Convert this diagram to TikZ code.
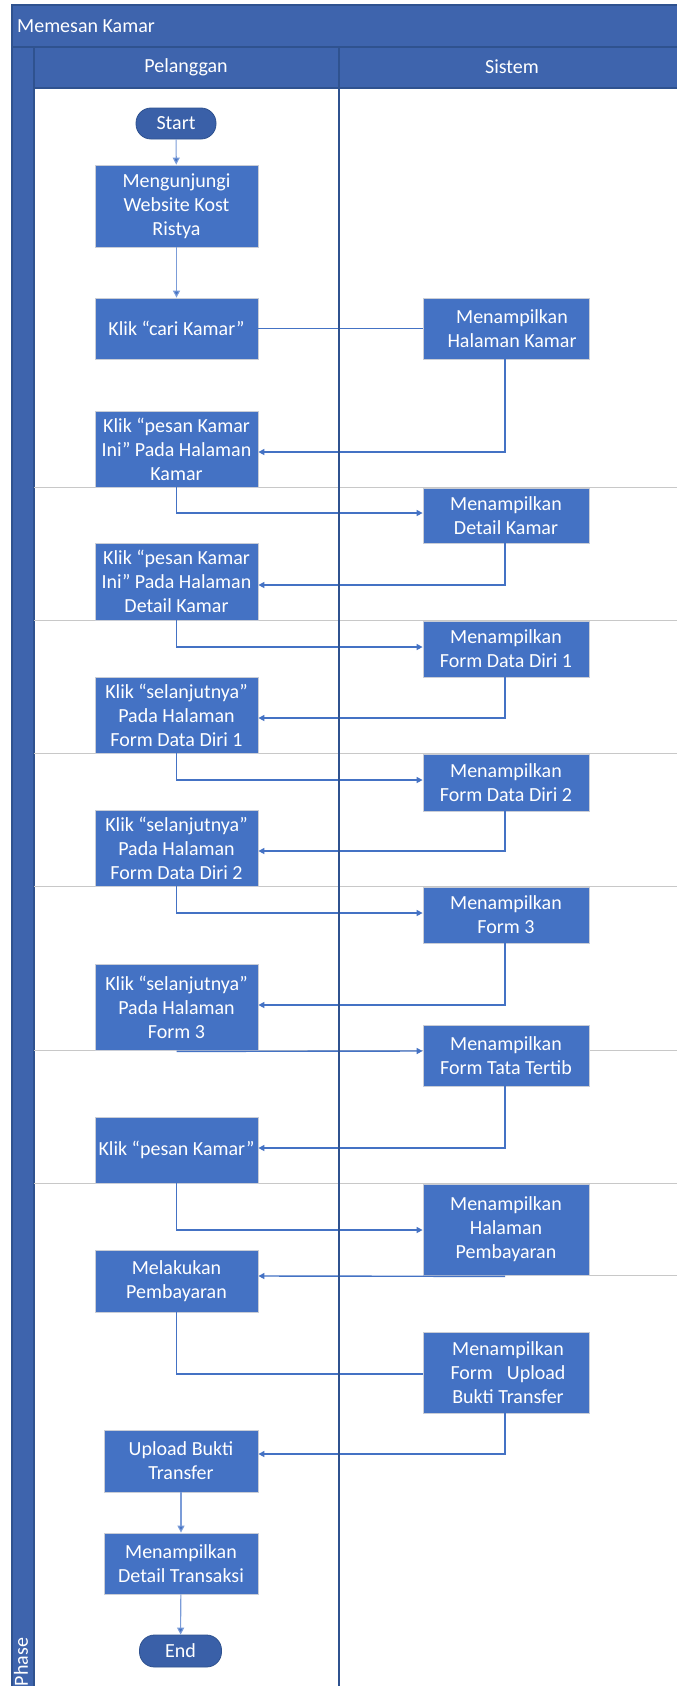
\documentclass[tikz,border=0pt]{standalone}
\usepackage{fontspec}
\setmainfont{Carlito}
\usetikzlibrary{arrows.meta,calc}
\definecolor{bandblue}{HTML}{3E64AD}
\definecolor{bandedge}{HTML}{2F528F}
\definecolor{boxblue}{HTML}{4472C4}
\definecolor{boxedge}{HTML}{C9CDD6}
\definecolor{termblue}{HTML}{3A60A8}
\definecolor{connblue}{HTML}{4472C4}
\definecolor{lightconn}{HTML}{7B9CD8}
\definecolor{sepgray}{HTML}{C8C8C8}
\begin{document}
\begin{tikzpicture}[x=1pt,y=-1pt,
  every node/.style={font=\fontsize{20}{24}\selectfont, text=white, inner sep=0pt},
  procbox/.style={rectangle, fill=boxblue, draw=boxedge, line width=0.8pt, align=center},
  lbox/.style={procbox, minimum width=163pt},
  rbox/.style={procbox, minimum width=166pt},
  termnode/.style={rectangle, rounded corners=15pt, fill=termblue, draw=bandedge, line width=0.8pt, align=center},
  conn/.style={draw=connblue, line width=1.4pt},
  connarrow/.style={conn, -{Triangle[length=6pt,width=6pt]}},
  flowarrow/.style={draw=lightconn, line width=1.1pt, -{Triangle[length=7pt,width=7pt,fill=connblue]}},
  sepline/.style={draw=sepgray, line width=0.9pt},
  bandbox/.style={fill=bandblue, draw=bandedge, line width=1.2pt}
]
\useasboundingbox (0,0) rectangle (677,1686);
\fill[white] (0,0) rectangle (677,1686);

% frame
\path[bandbox] (12,5) rectangle (700,47);
\node[anchor=west] (title) at (17,26) {Memesan Kamar};
\path[bandbox] (34,47) rectangle (700,88);
\path[bandbox] (12,47) rectangle (34,1700);
\node (hpel) at (186,67) {Pelanggan};
\node (hsis) at (512,67) {Sistem};
\node[rotate=90] (phase) at (21,1662) {Phase};

% phase separators
\foreach \yy in {487,620,753,886,1050,1183}{
  \draw[sepline] (34,\yy) -- (677,\yy);
}
\draw[sepline] (589,1275) -- (677,1275);

% nodes, Pelanggan lane
\node[termnode, minimum width=80pt, minimum height=31pt] (start) at (176,123.5) {Start};
\node[lbox, minimum height=82pt] (visit) at (176.5,206) {Mengunjungi\\Website Kost\\Ristya};
\node[lbox, minimum height=61pt] (cari) at (176.5,328.5) {Klik “cari Kamar”};
\node[lbox, minimum height=76pt] (pk1) at (176.5,449) {Klik “pesan Kamar\\Ini” Pada Halaman\\Kamar};
\node[lbox, minimum height=77pt] (pk2) at (176.5,581.5) {Klik “pesan Kamar\\Ini” Pada Halaman\\Detail Kamar};
\node[lbox, minimum height=76pt] (s1) at (176.5,715) {Klik “selanjutnya”\\Pada Halaman\\Form Data Diri 1};
\node[lbox, minimum height=76pt] (s2) at (176.5,848) {Klik “selanjutnya”\\Pada Halaman\\Form Data Diri 2};
\node[lbox, minimum height=86pt] (s3) at (176.5,1007) {Klik “selanjutnya”\\Pada Halaman\\Form 3};
\node[lbox, minimum height=66pt] (pesan) at (176.5,1150) {Klik “pesan Kamar”};
\node[lbox, minimum height=62pt] (bayar) at (176.5,1281) {Melakukan\\Pembayaran};
\node[procbox, minimum width=154pt, minimum height=62pt] (upload) at (181,1461) {Upload Bukti\\Transfer};
\node[procbox, minimum width=154pt, minimum height=61pt] (trans) at (181,1563.5) {Menampilkan\\Detail Transaksi};
\node[termnode, minimum width=82pt, minimum height=32pt] (end) at (180.5,1651) {End};

% nodes, Sistem lane
\node[rbox, minimum height=61pt] (r1) at (506,328.5) {\hspace{12pt}Menampilkan\\\hspace{12pt}Halaman Kamar};
\node[rbox, minimum height=55pt] (r2) at (506,515.5) {Menampilkan\\Detail Kamar};
\node[rbox, minimum height=56pt] (r3) at (506,649) {Menampilkan\\Form Data Diri 1};
\node[rbox, minimum height=57pt] (r4) at (506,782.5) {Menampilkan\\Form Data Diri 2};
\node[rbox, minimum height=56pt] (r5) at (506,915) {Menampilkan\\Form 3};
\node[rbox, minimum height=61pt] (r6) at (506,1055.5) {Menampilkan\\Form Tata Tertib};
\node[rbox, minimum height=91pt] (r7) at (506,1229.5) {Menampilkan\\Halaman\\Pembayaran};
\node[rbox, minimum height=81pt] (r8) at (506,1372.5) {\hspace{4pt}Menampilkan\\\hspace{4pt}Form\hspace{14pt}Upload\\\hspace{4pt}Bukti Transfer};

% connectors
\draw[flowarrow] (start) -- (visit);
\draw[flowarrow] (visit) -- (cari);
\draw[conn] (cari.east) -- (r1.west);
\draw[connarrow] ([xshift=-1pt]r1.south) |- (pk1.east |- 0,452);
\draw[connarrow] (pk1.south) |- (r2.west |- 0,513);
\draw[connarrow] ([xshift=-1pt]r2.south) |- (pk2.east |- 0,585);
\draw[connarrow] (pk2.south) |- (r3.west |- 0,647);
\draw[connarrow] ([xshift=-1pt]r3.south) |- (s1.east |- 0,718);
\draw[connarrow] (s1.south) |- (r4.west |- 0,780);
\draw[connarrow] ([xshift=-1pt]r4.south) |- (s2.east |- 0,851);
\draw[connarrow] (s2.south) |- (r5.west |- 0,913);
\draw[connarrow] ([xshift=-1pt]r5.south) |- (s3.east |- 0,1005);
\draw[connarrow] ([yshift=-1pt]s3.south) -- (r6.west |- 0,1051);
\draw[connarrow] ([xshift=-1pt]r6.south) |- (pesan.east |- 0,1148);
\draw[connarrow] (pesan.south) |- (r7.west |- 0,1230);
\draw[connarrow] ([xshift=-1pt,yshift=-1pt]r7.south) -- (bayar.east |- 0,1276);
\draw[conn] (bayar.south) |- (r8.west |- 0,1374);
\draw[connarrow] ([xshift=-1pt]r8.south) |- (upload.east |- 0,1454);
\draw[flowarrow] (upload) -- (trans);
\draw[flowarrow] (trans) -- (end);

% lane divider
\draw[draw=bandedge, line width=1.4pt] (339,47) -- (339,1686);
\end{tikzpicture}
\end{document}
